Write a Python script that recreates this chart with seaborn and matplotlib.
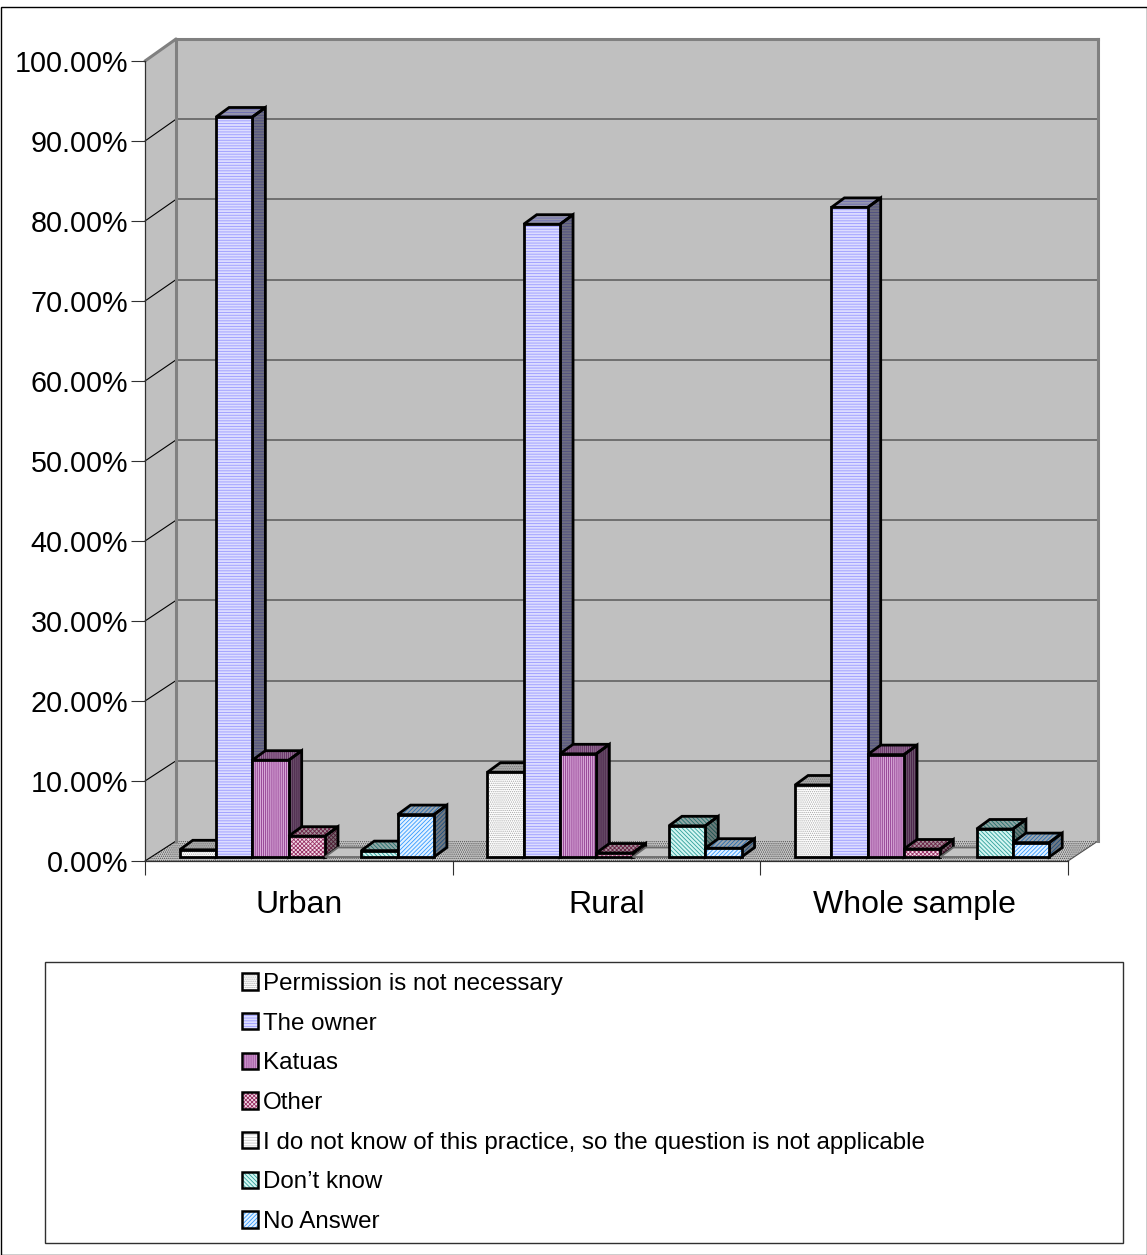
"""Grouped pseudo-3D bar chart: who gives permission, by area."""
import matplotlib
matplotlib.use('Agg')
import matplotlib.pyplot as plt
from matplotlib.colors import to_rgb
from matplotlib.legend_handler import HandlerTuple
from matplotlib.patches import Patch, Polygon, Rectangle
import numpy as np
import pandas as pd
import seaborn as sns

areas = ['Urban', 'Rural', 'Whole sample']
answers = ['Permission is not necessary', 'The owner', 'Katuas', 'Other',
           'I do not know of this practice, so the question is not applicable',
           'Don\u2019t know', 'No Answer']

permission = [0.9, 10.6, 9.0]
owner = [92.5, 79.1, 81.2]
katuas = [12.1, 12.9, 12.8]
other = [2.6, 0.5, 1.0]
not_known = [0.0, 0.0, 0.0]
dont_know = [0.8, 3.9, 3.5]
no_answer = [5.3, 1.1, 1.8]

face_colors = ['#ffffff', '#dcdcff', '#d8a8d8', '#f4dce8', '#ffffff', '#d4f6f2', '#e4f2ff']
hatch_colors = ['#a8a8a8', '#9a9aff', '#8e3a8e', '#993366', '#c8c8c8', '#2f9f9a', '#3399ff']
hatches = ['........', '------', '||||||||', 'xxxxxxxx', '------', '\\\\\\\\\\\\\\\\', '////////']

W, H = 1147, 1255
DEPTH_X, DEPTH_Y = 13, 9.5


def px_axes(fig, left, top, right, bottom, **kw):
    return fig.add_axes([left / W, 1 - bottom / H, (right - left) / W, (bottom - top) / H], **kw)


def shade(color, f):
    return tuple(c * f for c in to_rgb(color))


sns.set_theme(style='white')
plt.rcParams['font.family'] = ['Liberation Sans', 'DejaVu Sans']
plt.rcParams['hatch.linewidth'] = 0.6

fig = plt.figure(figsize=(W / 100, H / 100), dpi=100, facecolor='white')

# page frame, left wall, floor, legend box, all in pixel coordinates
frame = fig.add_axes([0, 0, 1, 1], zorder=0)
frame.set_xlim(0, W)
frame.set_ylim(H, 0)
frame.axis('off')
frame.add_patch(Rectangle((0.5, 6.5), 1146, 1248, fc='none', ec='black', lw=1))
frame.add_patch(Rectangle((44.5, 961.5), 1078, 281, fc='none', ec='#303030', lw=1))
frame.add_patch(Polygon([(145, 61), (176, 39), (176, 841), (145, 861)], fc='#c0c0c0', ec='none'))
frame.plot([145, 176], [61, 39], color='#808080', lw=2.2)
frame.add_patch(Polygon([(145, 861), (1068, 861), (1098, 841), (176, 841)],
                        fc='#c8c8c8', ec='#4a4a4a', lw=0, hatch='........'))
frame.plot([1068, 1098], [861, 841], color='#505050', lw=0.8)
for v in range(0, 100, 10):
    frame.plot([145, 176], [861 - 8 * v, 841 - 8.02 * v], color='black', lw=0.8)

# back wall with the gridlines
wall = px_axes(fig, 176, 39, 1098, 841, zorder=1)
wall.set_facecolor('#c0c0c0')
wall.set_ylim(0, 100)
wall.set_yticks(np.arange(10, 100, 10))
wall.set_xticks([])
wall.tick_params(left=False, labelleft=False)
wall.grid(True, axis='y', color='#5a5a5a', lw=1.1)
for s in wall.spines.values():
    s.set_color('#808080')
    s.set_linewidth(2.2)
wall.spines['bottom'].set_visible(False)

# front axis with ticks and labels
axis = px_axes(fig, 145, 61, 1068, 861, zorder=2)
axis.patch.set_alpha(0)
axis.set_xlim(-0.5, 2.5)
axis.set_ylim(0, 100)
axis.set_yticks(np.arange(0, 101, 10))
axis.set_yticklabels([f'{v:.2f}%' for v in np.arange(0, 101, 10)])
axis.set_xticks([-0.5, 0.5, 1.5, 2.5])
axis.set_xticklabels([])
axis.set_xticks([0, 1, 2], minor=True)
axis.set_xticklabels(areas, minor=True)
axis.tick_params(axis='y', length=10, width=0.8, color='#303030', labelsize=20.7, pad=2.2,
                 left=True, labelcolor='black')
axis.tick_params(axis='x', which='major', length=10, width=0.8, color='#303030', bottom=True)
axis.tick_params(axis='x', which='minor', length=0, labelsize=23, pad=21, labelcolor='black')
for name, s in axis.spines.items():
    s.set_visible(name in ('left', 'bottom'))
    s.set_color('#303030')
    s.set_linewidth(0.9)

# bars, shifted a little off the axis because they stand in the middle of the floor
bars = px_axes(fig, 153, 57, 1076, 857, zorder=3)
bars.patch.set_alpha(0)
df = pd.DataFrame({'area': areas, answers[0]: permission, answers[1]: owner, answers[2]: katuas,
                   answers[3]: other, answers[4]: not_known, answers[5]: dont_know,
                   answers[6]: no_answer})
long_df = df.melt(id_vars='area', var_name='answer', value_name='share')
sns.barplot(data=long_df, x='area', y='share', hue='answer', order=areas, hue_order=answers,
            width=0.826, gap=0, dodge=True, legend=False, ax=bars)
bars.set_xlim(-0.5, 2.5)
bars.set_ylim(0, 100)
bars.axis('off')

dx = DEPTH_X * 3 / 923
dy = DEPTH_Y * 100 / 800
items = []
for i, cont in enumerate(bars.containers):
    for p in cont.patches:
        items.append((p.get_x(), i, p))
items.sort(key=lambda t: t[0])

for order, (x0, i, p) in enumerate(items):
    w, h = p.get_width(), p.get_height()
    z = 3 + order * 0.01
    p.set_facecolor(face_colors[i])
    p.set_edgecolor(hatch_colors[i])
    p.set_hatch(hatches[i])
    p.set_linewidth(0)
    p.set_zorder(z + 0.002)
    p.set_clip_on(False)
    top = [(x0, h), (x0 + w, h), (x0 + w + dx, h + dy), (x0 + dx, h + dy)]
    side = [(x0 + w, 0), (x0 + w + dx, dy), (x0 + w + dx, h + dy), (x0 + w, h)]
    if h == 0:
        # empty category only leaves a flat outline on the floor
        bars.add_patch(Polygon(top, fc='#c4c4c4', ec='#6a6a6a', lw=1.3, zorder=z, clip_on=False))
        continue
    edge = dict(lw=2.0, joinstyle='miter', clip_on=False)
    bars.add_patch(Polygon(top, fc=shade(face_colors[i], 0.68), zorder=z,
                           ec=shade(hatch_colors[i], 0.7), lw=0, hatch=hatches[i], clip_on=False))
    bars.add_patch(Polygon(side, fc=shade(face_colors[i], 0.5), zorder=z,
                           ec=shade(hatch_colors[i], 0.5), lw=0, hatch=hatches[i], clip_on=False))
    bars.add_patch(Polygon(top, fc='none', ec='black', zorder=z + 0.001, **edge))
    bars.add_patch(Polygon(side, fc='none', ec='black', zorder=z + 0.001, **edge))
    bars.add_patch(Rectangle((x0, 0), w, h, fc='none', ec='black', zorder=z + 0.003, **edge))

# hatch follows the patch edge, so the black outline goes in a second layer
handles = [(Patch(facecolor=face_colors[i], edgecolor=hatch_colors[i], hatch=hatches[i], lw=0),
            Patch(facecolor='none', edgecolor='black', lw=1.8))
           for i in range(len(answers))]
legend = fig.legend(handles, answers, loc='upper left', bbox_to_anchor=(242 / W, 1 - 973 / H),
                    frameon=False, fontsize=17.4, handlelength=0.67, handleheight=0.67,
                    handletextpad=0.2, labelspacing=0.73, borderpad=0, borderaxespad=0,
                    labelcolor='black', handler_map={tuple: HandlerTuple(ndivide=1, pad=0)})
legend.set_zorder(5)

fig.savefig('out.png', dpi=100)
